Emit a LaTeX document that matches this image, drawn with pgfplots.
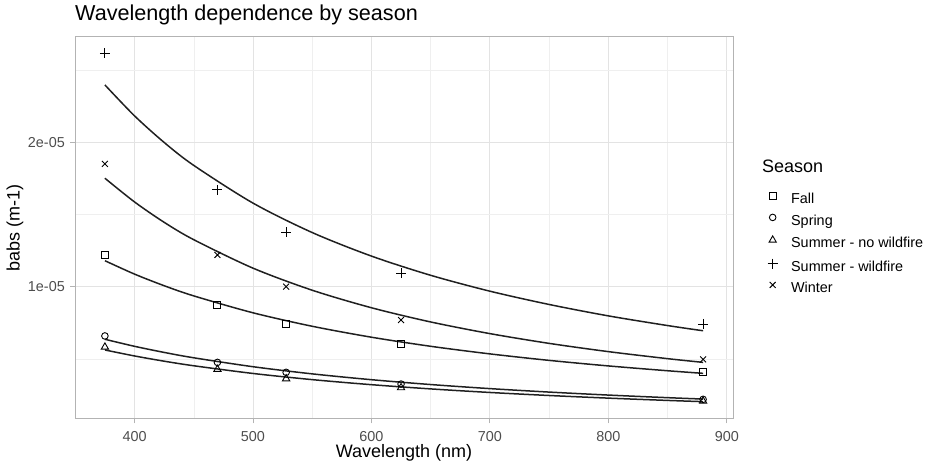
\documentclass[border=0pt]{standalone}
\usepackage{pgfplots}
\pgfplotsset{compat=1.18}
\usepackage{fontspec}
\setmainfont{Liberation Sans}
\definecolor{gridmaj}{HTML}{E3E3E3}
\definecolor{gridmin}{HTML}{EFEFEF}
\definecolor{border}{HTML}{B3B3B3}
\definecolor{ticktxt}{HTML}{4D4D4D}
\definecolor{curve}{HTML}{202020}
\begin{document}
\begin{tikzpicture}[x=1pt,y=1pt]
\begin{axis}[
  at={(0pt,0pt)}, anchor=south west,
  scale only axis, width=658pt, height=382pt,
  xmin=349.75, xmax=905.25, ymin=0.084, ymax=2.729,
  xtick={400,500,...,900},
  minor xtick={350,450,550,650,750,850},
  ytick={1,2}, yticklabels={1e-05,2e-05},
  minor ytick={0.5,1.5,2.5},
  grid=both,
  major grid style={gridmaj, line width=0.9pt},
  minor grid style={gridmin, line width=0.5pt},
  axis line style={border, line width=1pt},
  tick align=outside, major tick length=4.5pt, minor tick length=0pt,
  tick style={border, line width=0.9pt},
  xtick pos=bottom, ytick pos=left,
  /pgf/number format/assume math mode=true,
  /pgf/number format/set thousands separator={},
  tick label style={font=\fontsize{14.4}{16}\selectfont, text=ticktxt},
  xticklabel style={anchor=base, yshift=-18pt, inner sep=0pt},
  yticklabel style={anchor=east, inner sep=0pt, xshift=-5.5pt},
  legend style={draw=none, fill=none, at={(axis description cs:1.0524,0.5943)}, anchor=north west,
    font=\fontsize{14.4}{16}\selectfont, row sep=7.7pt, inner sep=0pt,
    nodes={inner sep=0pt, text height=10.5pt, text depth=3pt}},
  legend cell align=left,
  legend image code/.code={\draw[#1,yshift=4pt] plot coordinates {(3pt,0pt)}; \path (0pt,0pt) (21pt,0pt);},
]
% fitted curves
\addplot[curve, line width=1.5pt, smooth, forget plot] coordinates {
(375,1.180)(400,1.0873)(425,1.0069)(450,0.9364)(500,0.8194)(550,0.7261)(600,0.6503)(650,0.5874)(700,0.5348)(750,0.4899)(800,0.4515)(850,0.4181)(880,0.4001)};
\addplot[curve, line width=1.5pt, smooth, forget plot] coordinates {
(375,0.636)(400,0.5873)(425,0.5450)(450,0.5078)(500,0.4460)(550,0.3965)(600,0.3561)(650,0.3226)(700,0.2944)(750,0.2704)(800,0.2497)(850,0.2317)(880,0.2220)};
\addplot[curve, line width=1.5pt, smooth, forget plot] coordinates {
(375,0.562)(400,0.5205)(425,0.4843)(450,0.4526)(500,0.3993)(550,0.3566)(600,0.3216)(650,0.2924)(700,0.2677)(750,0.2467)(800,0.2285)(850,0.2126)(880,0.2040)};
\addplot[curve, line width=1.5pt, smooth, forget plot] coordinates {
(375,2.397)(400,2.183)(425,1.999)(450,1.840)(500,1.579)(550,1.375)(600,1.212)(650,1.079)(700,0.969)(750,0.877)(800,0.798)(850,0.731)(880,0.695)};
\addplot[curve, line width=1.5pt, smooth, forget plot] coordinates {
(375,1.751)(400,1.587)(425,1.446)(450,1.3255)(500,1.1285)(550,0.9757)(600,0.8543)(650,0.7559)(700,0.6752)(750,0.6076)(800,0.5505)(850,0.5018)(880,0.4761)};
% observations
\addplot[only marks, mark=square, mark size=3.5pt, line width=0.9pt, black] coordinates {
(375,1.222)(470,0.873)(528,0.742)(625,0.601)(880,0.411)};
\addlegendentry{Fall}
\addplot[only marks, mark=o, mark size=3.3pt, line width=0.9pt, black] coordinates {
(375,0.659)(470,0.476)(528,0.407)(625,0.326)(880,0.220)};
\addlegendentry{Spring}
\addplot[only marks, mark=triangle, mark size=4.2pt, line width=0.9pt, black] coordinates {
(375,0.582)(470,0.428)(528,0.363)(625,0.301)(880,0.208)};
\addlegendentry{Summer - no wildfire}
\addplot[only marks, mark=+, mark size=5pt, line width=0.9pt, black] coordinates {
(375,2.618)(470,1.670)(528,1.377)(625,1.093)(880,0.742)};
\addlegendentry{Summer - wildfire}
\addplot[only marks, mark=x, mark size=4.2pt, line width=0.9pt, black] coordinates {
(375,1.850)(470,1.220)(528,1.000)(625,0.769)(880,0.497)};
\addlegendentry{Winter}
\end{axis}
\node[anchor=base west, inner sep=0pt, font=\fontsize{21.6}{24}\selectfont] at (0,398) {Wavelength dependence by season};
\node[anchor=base, inner sep=0pt, font=\fontsize{18}{20}\selectfont] at (329,-39) {Wavelength (nm)};
\node[anchor=center, inner sep=0pt, rotate=90, font=\fontsize{18}{20}\selectfont] at (-60,191) {babs (m-1)};
\node[anchor=base west, inner sep=0pt, font=\fontsize{18}{20}\selectfont] at (687,246) {Season};
\pgfresetboundingbox
\path[use as bounding box] (-75,-51) rectangle (856,419);
\end{tikzpicture}
\end{document}
